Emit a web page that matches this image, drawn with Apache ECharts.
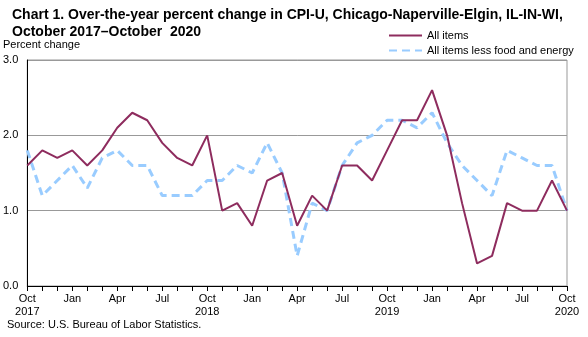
<!DOCTYPE html>
<html>
<head>
<meta charset="utf-8">
<script src="https://cdn.jsdelivr.net/npm/echarts@6/dist/echarts.min.js"></script>
<style>html,body{margin:0;padding:0;background:#fff;}#c{width:588px;height:337px;}</style>
</head>
<body>
<div id="c"></div>
<script>
const categories = ['Oct\n2017','Nov','Dec','Jan','Feb','Mar','Apr','May','Jun','Jul','Aug','Sep',
  'Oct\n2018','Nov','Dec','Jan','Feb','Mar','Apr','May','Jun','Jul','Aug','Sep',
  'Oct\n2019','Nov','Dec','Jan','Feb','Mar','Apr','May','Jun','Jul','Aug','Sep','Oct\n2020'];
const allItems = [1.6,1.8,1.7,1.8,1.6,1.8,2.1,2.3,2.2,1.9,1.7,1.6,
  2.0,1.0,1.1,0.8,1.4,1.5,0.8,1.2,1.0,1.6,1.6,1.4,
  1.8,2.2,2.2,2.6,2.0,1.1,0.3,0.4,1.1,1.0,1.0,1.4,1.0];
const lessFoodEnergy = [1.8,1.2,1.4,1.6,1.3,1.7,1.8,1.6,1.6,1.2,1.2,1.2,
  1.4,1.4,1.6,1.5,1.9,1.5,0.4,1.1,1.0,1.6,1.9,2.0,
  2.2,2.2,2.1,2.3,1.9,1.6,1.4,1.2,1.8,1.7,1.6,1.6,1.0];
const seriesNames = ['All items','All items less food and energy'];
const titleText = 'Chart 1. Over-the-year percent change in CPI-U, Chicago-Naperville-Elgin, IL-IN-WI,\nOctober 2017\u2013October  2020';
const yTitle = 'Percent change';
const sourceText = 'Source: U.S. Bureau of Labor Statistics.';

const FONT = '"Liberation Sans", Arial, sans-serif';
const chart = echarts.init(document.getElementById('c'), null, {renderer:'canvas'});
chart.setOption({
  animation:false,
  backgroundColor:'#fff',
  title:{text:titleText,left:7,top:2,textStyle:{fontFamily:FONT,fontSize:14,fontWeight:'bold',color:'#000',lineHeight:17}},
  legend:{show:true,orient:'vertical',left:383,top:25,itemWidth:33,itemHeight:10,itemGap:4,
    itemStyle:{opacity:0},
    textStyle:{fontFamily:FONT,fontSize:11,color:'#000'},
    data:seriesNames},
  grid:{left:27,right:21,top:60,bottom:51,show:true,borderColor:'#999',borderWidth:1},
  xAxis:{type:'category',data:categories,boundaryGap:false,
    axisLine:{lineStyle:{color:'#000',width:1}},
    axisTick:{show:true,interval:0,length:5,lineStyle:{color:'#000'}},
    axisLabel:{interval:2,color:'#000',fontFamily:FONT,fontSize:11,margin:6,lineHeight:13},
    splitLine:{show:false}},
  yAxis:{type:'value',min:0,max:3,interval:1,
    axisLine:{show:true,lineStyle:{color:'#000'}},axisTick:{show:false},
    axisLabel:{formatter:v=>v.toFixed(1),color:'#000',fontFamily:FONT,fontSize:11,margin:9},
    splitLine:{lineStyle:{color:'#999',width:1}}},
  graphic:[
    {type:'text',left:3,top:39,style:{text:yTitle,font:'11px '+FONT,fill:'#000'}},
    {type:'text',left:7,top:319,style:{text:sourceText,font:'11px '+FONT,fill:'#000'}}
  ],
  series:[
    {name:seriesNames[0],type:'line',data:allItems,symbol:'none',z:3,
      lineStyle:{color:'#8E2C5E',width:2},itemStyle:{color:'#8E2C5E'}},
    {name:seriesNames[1],type:'line',data:lessFoodEnergy,symbol:'none',z:2,
      lineStyle:{color:'#99CCFF',width:3,type:[8,5]},itemStyle:{color:'#99CCFF'}}
  ]
});
</script>
</body>
</html>
